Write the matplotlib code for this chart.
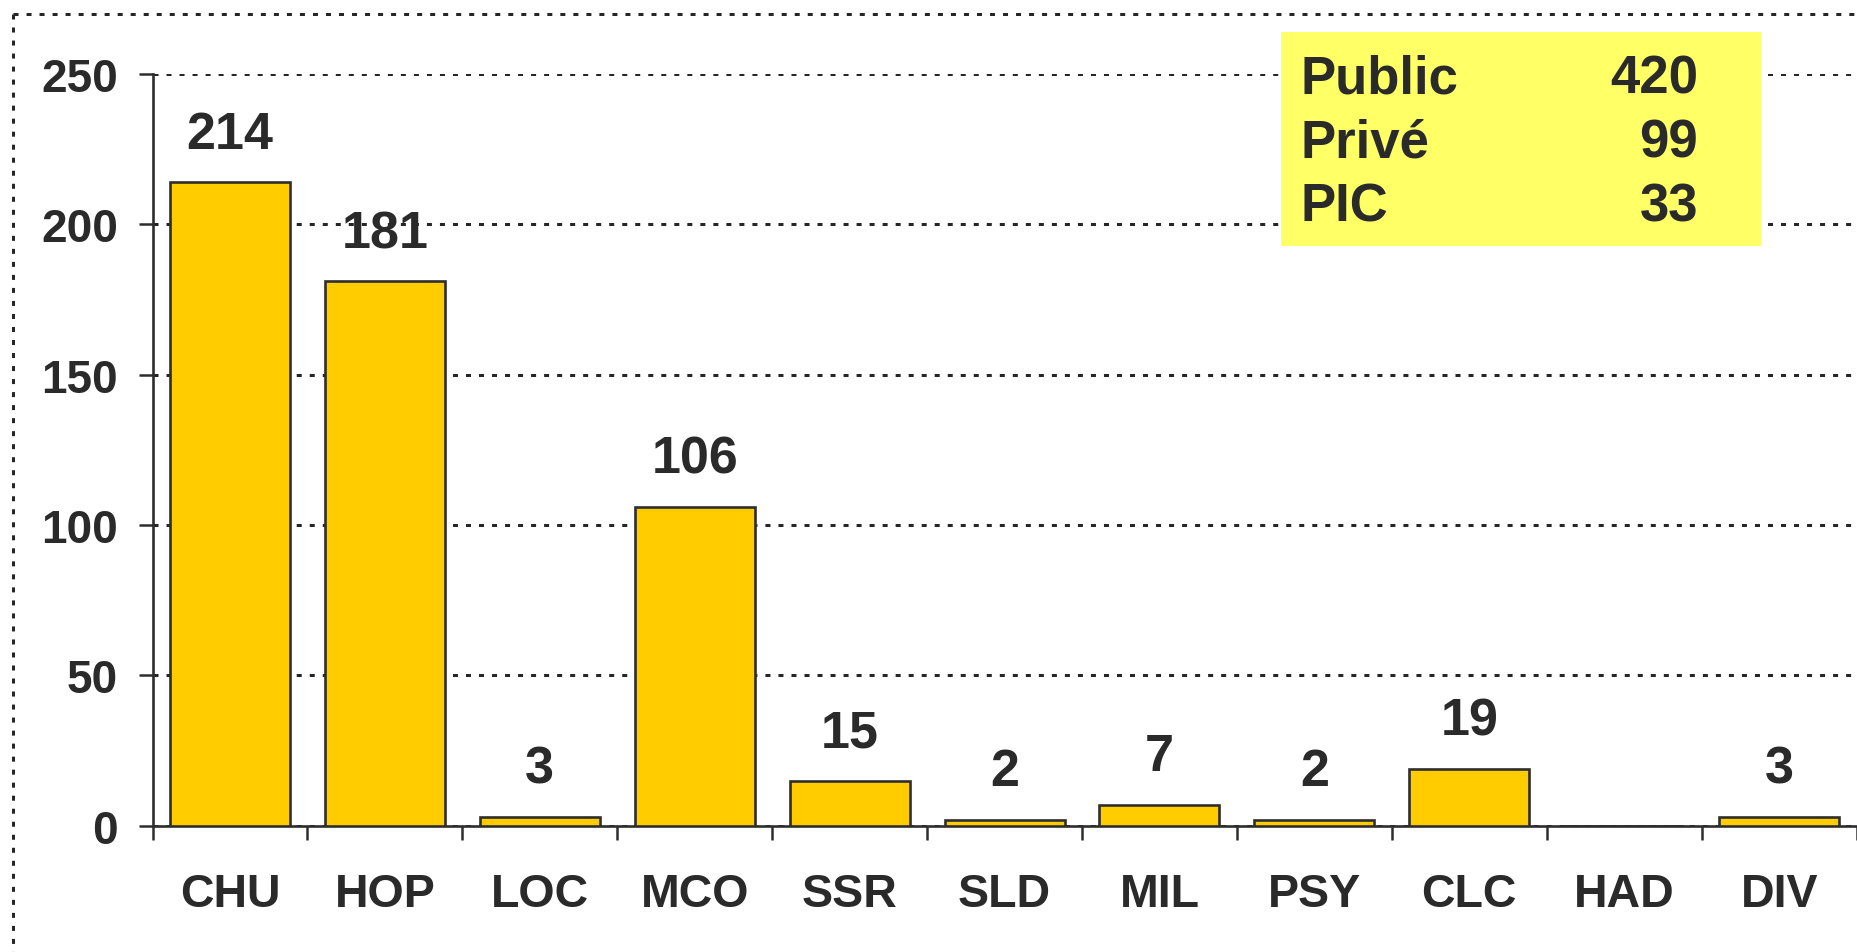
import matplotlib
matplotlib.use("Agg")
import matplotlib.pyplot as plt
from matplotlib.patches import Rectangle
from matplotlib.lines import Line2D
import numpy as np

# donnees
categories = ['CHU', 'HOP', 'LOC', 'MCO', 'SSR', 'SLD', 'MIL', 'PSY', 'CLC', 'HAD', 'DIV']
valeurs = [214, 181, 3, 106, 15, 2, 7, 2, 19, 0, 3]
y_ticks = [0, 50, 100, 150, 200, 250]

# encadre jaune
box_labels = ['Public', 'Privé', 'PIC']
box_values = [420, 99, 33]

txt_col = '#2a2a2a'
line_col = '#2e2e2e'
dot_col = '#262626'
dots = (0, (1.67, 2.67))

plt.rcParams['font.family'] = ['Liberation Sans', 'DejaVu Sans']
plt.rcParams['font.weight'] = 'bold'

W, H = 1857, 953
fig = plt.figure(figsize=(W / 100, H / 100), dpi=100)

# position des axes en pixels
x0, x1 = 152.5, 1856.6
y0, y1 = 953 - 826.7, 953 - 75
ax = fig.add_axes([x0 / W, y0 / H, (x1 - x0) / W, (y1 - y0) / H])

x = np.arange(len(categories))
ax.bar(x, valeurs, width=0.775, color='#FFCC00', edgecolor=line_col, linewidth=1.9, zorder=3)

for xi, v in zip(x, valeurs):
    if v == 0:
        continue
    ax.annotate(str(v), (xi, v), xytext=(0, 24.8), textcoords='offset points',
                ha='center', va='baseline', fontsize=37.5, fontweight='bold', color=txt_col,
                zorder=4)

ax.set_xlim(-0.5, len(categories) - 0.5)
ax.set_ylim(0, 250)
ax.set_yticks(y_ticks)
ax.set_yticklabels([str(t) for t in y_ticks])
ax.set_xticks(x)
ax.set_xticklabels(categories)
ax.set_xticks(np.arange(-0.5, len(categories), 1.0), minor=True)

ax.tick_params(axis='y', which='major', direction='out', length=10, width=1.8, color=line_col,
               labelsize=33, labelcolor=txt_col, pad=15)
ax.tick_params(axis='x', which='major', length=0, labelsize=33.5, labelcolor=txt_col, pad=33)
ax.tick_params(axis='x', which='minor', direction='out', length=10, width=1.8, color=line_col)

for s in ['top', 'right']:
    ax.spines[s].set_visible(False)
for s in ['left', 'bottom']:
    ax.spines[s].set_color(line_col)
    ax.spines[s].set_linewidth(1.9)

ax.yaxis.grid(True, color=dot_col, linewidth=2.16, linestyle=dots, zorder=0)
ax.set_axisbelow(True)
ax.patch.set_alpha(0)

# cadre pointille exterieur
bx, by = 12.7 / W, (953 - 15) / H
fig.add_artist(Line2D([bx, 1.0], [by, by], transform=fig.transFigure, color=dot_col,
                      linewidth=2.16, linestyle=dots))
fig.add_artist(Line2D([bx, bx], [by, 0.0], transform=fig.transFigure, color=dot_col,
                      linewidth=2.16, linestyle=dots))

# encadre jaune
rx0, rx1 = 1281, 1761
ry_top, ry_bot = 33.3, 246.7
fig.add_artist(Rectangle((rx0 / W, (953 - ry_bot) / H), (rx1 - rx0) / W, (ry_bot - ry_top) / H,
                         transform=fig.transFigure, facecolor='#FFFF66', edgecolor='none', zorder=5))
baselines = [94, 158, 222]
for lab, val, b in zip(box_labels, box_values, baselines):
    fig.text(1300 / W, (953 - b) / H, lab, ha='left', va='baseline', fontsize=38,
             fontweight='bold', color=txt_col, zorder=6)
    fig.text(1698 / W, (953 - b) / H, str(val), ha='right', va='baseline', fontsize=38,
             fontweight='bold', color=txt_col, zorder=6)

fig.savefig('out.png', dpi=100, facecolor='white')
